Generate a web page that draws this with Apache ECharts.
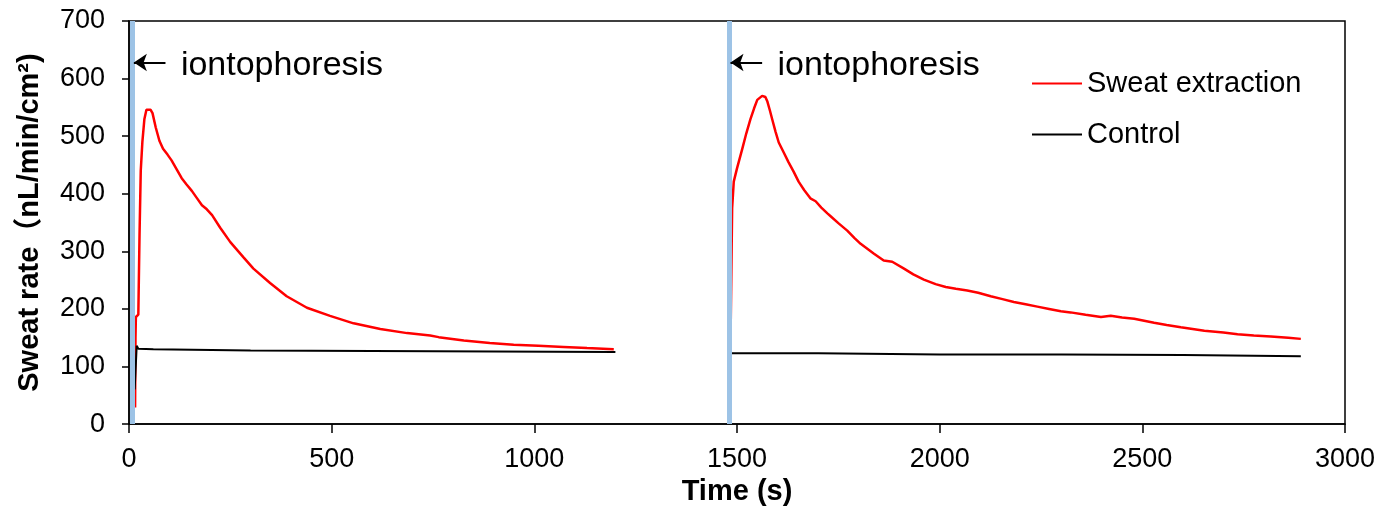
<!DOCTYPE html>
<html>
<head>
<meta charset="utf-8">
<script src="https://cdn.jsdelivr.net/npm/echarts@6/dist/echarts.min.js"></script>
<style>
  html, body { margin: 0; padding: 0; background: #fff; }
  #chart { width: 1387px; height: 512px; }
</style>
</head>
<body>
<div id="chart"></div>
<script>
// Sweat rate after two iontophoresis sessions: [time (s), rate (nL/min/cm²)]
const sweatRun1 = [
  [15, 29], [16, 150], [17, 186], [21, 185], [23, 190], [26, 330], [29, 440],
  [33, 490], [38, 530], [43, 546], [53, 546], [58, 540], [66, 515], [75, 492],
  [84, 478], [95, 468], [105, 458], [118, 442], [130, 427], [142, 416],
  [155, 405], [168, 392], [180, 380], [192, 373], [205, 363], [225, 341],
  [250, 316], [282, 290], [307, 270], [348, 245], [389, 222], [439, 202],
  [496, 188], [554, 175], [620, 165], [686, 158], [743, 154], [764, 151],
  [826, 145], [890, 141], [949, 138], [1010, 136], [1072, 134], [1130, 132],
  [1196, 130]
];
const sweatRun2 = [
  [1484, 142], [1486, 260], [1488, 375], [1492, 421], [1500, 444], [1513, 478],
  [1523, 505], [1533, 529], [1542, 548], [1550, 563], [1562, 570], [1570, 568],
  [1575, 560], [1581, 545], [1587, 529], [1595, 508], [1603, 489], [1615, 472],
  [1627, 455], [1640, 438], [1652, 421], [1666, 406], [1681, 392], [1694, 387],
  [1708, 376], [1723, 366], [1731, 361], [1750, 349], [1772, 336], [1790, 323],
  [1805, 313], [1838, 296], [1862, 284], [1883, 282], [1912, 270], [1935, 260],
  [1961, 251], [1990, 243], [2015, 238], [2040, 235], [2068, 232], [2095, 228],
  [2126, 222], [2155, 217], [2183, 212], [2212, 208], [2241, 204], [2270, 200],
  [2299, 196], [2323, 194], [2360, 190], [2398, 186], [2422, 188], [2450, 185],
  [2480, 183], [2529, 176], [2560, 172], [2595, 168], [2653, 162], [2700, 159],
  [2735, 156], [2775, 154], [2817, 152], [2860, 150], [2891, 148]
];
const controlRun1 = [
  [14, 60], [19, 136], [23, 131], [60, 130], [300, 128], [600, 127],
  [900, 126], [1200, 125]
];
const controlRun2 = [
  [1484, 123], [1700, 123], [2000, 121], [2300, 121], [2600, 120], [2891, 118]
];
// Start of each iontophoresis session (s)
const iontoTimes = [8, 1480];
const seriesNames = ['Sweat extraction', 'Control'];
const annotationText = 'iontophoresis';
const annotationLevel = 628;

const FONT = "'Liberation Sans', Arial, 'Noto Sans CJK SC', sans-serif";
const chart = echarts.init(document.getElementById('chart'));

const arrowLines = iontoTimes.map(t => [
  { coord: [t + 82, annotationLevel] },
  { coord: [t + 4, annotationLevel] }
]);
const labelPoints = iontoTimes.map(t => ({
  coord: [t + 120, annotationLevel],
  value: annotationText
}));

const redStyle = { color: '#ff0000', width: 2.5 };
const blackStyle = { color: '#000000', width: 2 };

chart.setOption({
  animation: false,
  textStyle: { fontFamily: FONT },
  grid: {
    left: 129, right: 42, top: 21, bottom: 79,
    show: true, borderColor: '#000', borderWidth: 1.5, backgroundColor: 'transparent'
  },
  legend: {
    orient: 'vertical', left: 1027, top: 64, itemGap: 22,
    icon: 'rect', itemWidth: 50, itemHeight: 2,
    data: seriesNames,
    textStyle: { fontSize: 29, color: '#000', fontFamily: FONT }
  },
  xAxis: {
    type: 'value', min: 0, max: 3000, interval: 500,
    name: 'Time (s)', nameLocation: 'middle', nameGap: 48,
    nameTextStyle: { fontSize: 29, fontWeight: 'bold', color: '#000', fontFamily: FONT },
    axisLine: { onZero: false, lineStyle: { color: '#000', width: 1.5 } },
    axisTick: { show: true, length: 9, lineStyle: { color: '#000', width: 1.5 } },
    axisLabel: { fontSize: 27, color: '#000', margin: 22, fontFamily: FONT,
                 formatter: v => String(v) },
    splitLine: { show: false }
  },
  yAxis: {
    type: 'value', min: 0, max: 700, interval: 100,
    name: 'Sweat rate（nL/min/cm²)', nameLocation: 'middle', nameGap: 84,
    nameTextStyle: { fontSize: 29, fontWeight: 'bold', color: '#000', fontFamily: FONT },
    axisLine: { show: true, lineStyle: { color: '#000', width: 1.5 } },
    axisTick: { show: true, length: 7, lineStyle: { color: '#000', width: 1.5 } },
    axisLabel: { fontSize: 27, color: '#000', margin: 24, fontFamily: FONT,
                 formatter: v => String(v) },
    splitLine: { show: false }
  },
  series: [
    {
      name: seriesNames[0], type: 'line', data: sweatRun1, showSymbol: false,
      lineStyle: redStyle, itemStyle: { color: '#ff0000' }, z: 3,
      markLine: {
        silent: true, symbol: 'none', animation: false,
        lineStyle: { color: '#9dc3e6', width: 5, type: 'solid' },
        label: { show: false },
        data: iontoTimes.map(t => ({ xAxis: t }))
      }
    },
    {
      name: seriesNames[0], type: 'line', data: sweatRun2, showSymbol: false,
      lineStyle: redStyle, itemStyle: { color: '#ff0000' }, z: 3
    },
    {
      name: seriesNames[1], type: 'line', data: controlRun1, showSymbol: false,
      lineStyle: blackStyle, itemStyle: { color: '#000' }, z: 4,
      markLine: {
        silent: true, symbol: ['none', 'arrow'], symbolSize: 13, animation: false,
        itemStyle: { color: '#000' },
        lineStyle: { color: '#000', width: 2, type: 'solid' },
        label: { show: false },
        data: arrowLines
      },
      markPoint: {
        silent: true, symbol: 'rect', symbolSize: 0, animation: false,
        label: {
          show: true, position: 'right', distance: 0, offset: [0, 3],
          formatter: annotationText, fontSize: 34, color: '#000', fontFamily: FONT
        },
        data: labelPoints
      }
    },
    {
      name: seriesNames[1], type: 'line', data: controlRun2, showSymbol: false,
      lineStyle: blackStyle, itemStyle: { color: '#000' }, z: 4
    }
  ]
});
</script>
</body>
</html>
